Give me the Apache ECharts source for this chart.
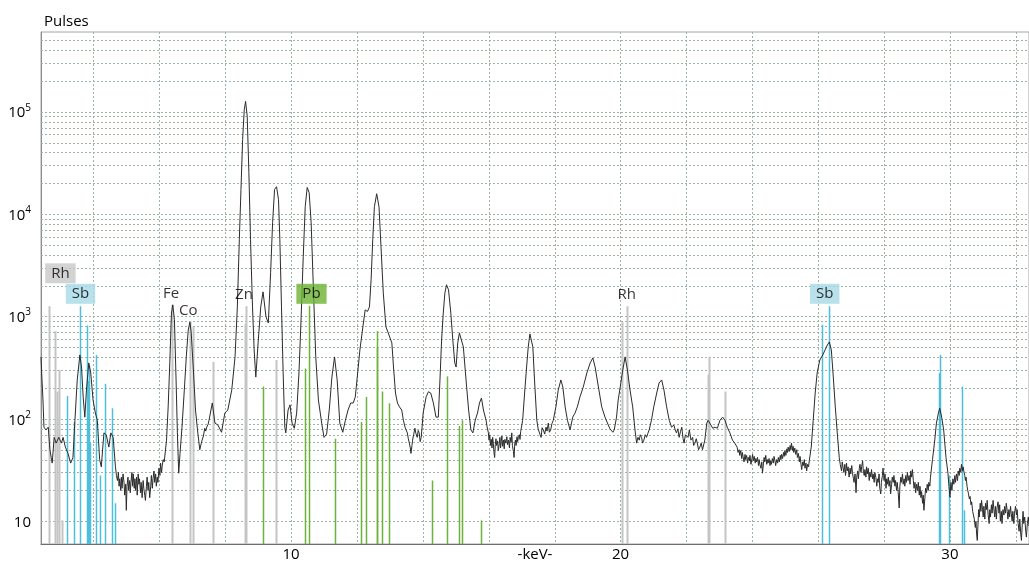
<!DOCTYPE html>
<html>
<head>
<meta charset="utf-8">
<script src="https://cdn.jsdelivr.net/npm/echarts@6/dist/echarts.min.js"></script>
<style>
html,body{margin:0;padding:0;background:#fff;}
#chart{width:1029px;height:565px;}
</style>
</head>
<body>
<div id="chart"></div>
<script>
// ---- spectrum: [energy keV, pulses] ----
const spectrumLow = [[2.41,403],[2.44,240],[2.47,153],[2.50,83],[2.56,78],[2.63,83],[2.68,50],[2.72,42],[2.75,37],[2.81,66],
[2.87,58],[2.95,66],[3.03,58],[3.08,66],[3.15,53],[3.23,46],[3.31,37],[3.38,42],[3.44,97],[3.51,240],
[3.59,421],[3.64,321],[3.69,164],[3.74,104],[3.79,191],[3.86,352],[3.92,281],[3.99,153],[4.06,114],[4.12,97],
[4.19,40],[4.24,34],[4.32,73],[4.39,70],[4.47,53],[4.53,73],[4.60,66],
[4.67,34],[4.70,28],[4.73,25],[4.76,30],[4.78,22],[4.80,26],[4.83,20],[4.85,27],[4.87,21],[4.90,29],
[4.93,24],[4.95,18],[4.98,23],[5.00,12.8],[5.02,22],[5.05,27],[5.07,20],[5.10,25],[5.12,19],[5.14,24],
[5.17,30],[5.19,22],[5.21,29],[5.24,21],[5.26,26],[5.28,20],[5.31,27],[5.33,18],[5.36,29],[5.38,23],
[5.40,26],[5.43,19],[5.45,24],[5.48,17],[5.51,25],[5.53,21],[5.56,18],[5.58,16],[5.61,22],[5.63,27],
[5.66,20],[5.68,24],[5.71,17],[5.74,22],[5.76,28],[5.79,21],[5.81,26],[5.84,31],[5.86,24],[5.89,29],
[5.91,22],[5.94,27],[5.96,24],[5.99,33],[6.02,28],[6.04,37],[6.07,30],[6.09,35],[6.12,40],[6.15,38]];

const spectrumMid = [[6.22,62],[6.27,131],[6.32,352],[6.37,1080],[6.41,1300],[6.46,930],[6.51,240],[6.55,73],[6.59,29.5],[6.63,46],
[6.69,83],[6.76,191],[6.82,403],[6.88,739],[6.93,880],[6.97,691],[7.04,281],[7.10,122],[7.16,78],[7.23,50],
[7.27,57],[7.30,62],[7.34,68],[7.38,81],[7.41,76],[7.44,83],[7.48,88],[7.51,97],[7.61,143],[7.69,91],
[7.78,87],[7.89,74],[7.99,114],[8.08,122],[8.20,191],[8.30,403],[8.37,1240],[8.43,5620],[8.48,17400],[8.53,53500],
[8.58,105000],[8.62,126000],[8.67,89800],[8.72,25400],[8.77,5620],[8.83,1240],[8.88,471],[8.93,256],[9.00,552],[9.08,1240],
[9.15,1740],[9.24,991],[9.31,865],[9.38,2670],[9.44,8240],[9.50,17400],[9.56,18500],[9.62,13800],[9.66,5620],[9.71,1240],
[9.76,281],[9.81,83],[9.84,73],[9.91,122],[9.97,137],[10.03,91],[10.10,81],[10.17,114],[10.24,281],[10.30,865],
[10.37,3830],[10.43,11800],[10.49,18200],[10.55,16200],[10.61,8240],[10.68,1820],[10.75,403],[10.83,153],[10.93,91],[11.00,66],
[11.08,71],[11.16,122],[11.24,256],[11.32,403],[11.40,240],[11.48,91],[11.57,74],[11.65,97],[11.73,122],[11.81,143],
[11.89,143],[11.95,164],[12.01,256],[12.09,471],[12.18,791],[12.25,1160],[12.32,1120],[12.38,1240],[12.43,2280],[12.48,5620],
[12.53,11800],[12.60,15800],[12.67,11800],[12.73,4800],[12.80,1700],[12.88,791],[12.95,691],[13.06,552],[13.11,321],[13.17,179],
[13.23,143],[13.29,131],[13.36,122],[13.41,97],[13.46,83],[13.53,73],[13.56,64],[13.59,58],[13.62,52],[13.64,46],
[13.67,55],[13.69,62],[13.72,70],[13.76,81],[13.79,72],[13.83,66],[13.86,77],[13.89,73],[13.92,60],[13.95,66],
[13.98,85],[14.01,114],[14.10,164],[14.17,184],[14.24,179],[14.32,143],[14.40,104],[14.47,104],[14.52,240],[14.57,590],
[14.62,1080],[14.67,1700],[14.72,2040],[14.78,1820],[14.85,1080],[14.91,590],[14.97,352],[15.01,321],[15.06,552],[15.11,691],
[15.17,707],[15.23,504],[15.28,321],[15.33,205],[15.39,122],[15.46,78],[15.52,73],[15.59,97],[15.66,114],[15.72,143],
[15.78,160],[15.84,122],[15.92,97],[15.95,84],[15.99,73],[16.01,62],[16.03,70],[16.06,55],[16.08,63],[16.10,52],
[16.12,66],[16.14,58],[16.16,47],[16.18,42],[16.20,56],[16.22,64],[16.24,55],[16.27,61],[16.29,49],[16.32,57],
[16.34,66],[16.36,52],[16.38,60],[16.40,68],[16.42,54],[16.45,62],[16.47,51],[16.49,63],[16.52,58],[16.55,67],
[16.57,56],[16.60,62],[16.63,52],[16.65,66],[16.68,59],[16.70,73],[16.72,55],[16.75,48],[16.77,42],[16.79,57],
[16.81,62],[16.83,55],[16.86,67],[16.88,60],[16.90,66],[16.93,70],[16.95,63],[16.97,75]];

const spectrumHigh = [[17.03,97],[17.09,179],[17.15,321],[17.20,504],[17.25,676],[17.34,504],[17.39,240],[17.46,97],[17.50,80],[17.53,83],
[17.56,70],[17.59,66],[17.62,82],[17.66,78],[17.70,71],[17.74,83],[17.77,76],[17.81,91],[17.84,74],[17.88,78],
[17.92,90],[17.96,97],[18.04,131],[18.11,191],[18.19,240],[18.25,205],[18.32,131],[18.39,97],[18.47,78],[18.55,104],
[18.62,114],[18.69,131],[18.77,164],[18.87,205],[18.98,281],[19.08,352],[19.16,394],[19.23,321],[19.33,205],[19.43,131],
[19.53,104],[19.63,87],[19.68,80],[19.73,83],[19.77,74],[19.81,78],[19.88,104],[19.93,153],[20.01,224],[20.07,300],
[20.14,403],[20.21,300],[20.29,191],[20.37,131],[20.44,78],[20.49,58],[20.53,66],[20.57,62],[20.60,70],[20.64,66],
[20.67,58],[20.71,62],[20.75,70],[20.79,66],[20.83,72],[20.87,78],[20.94,97],[21.01,131],[21.10,179],[21.17,224],
[21.25,240],[21.32,191],[21.40,131],[21.48,97],[21.55,83],[21.62,87],[21.66,78],[21.70,73],[21.74,80],[21.78,66],
[21.82,75],[21.86,83],[21.90,64],[21.93,58],[21.97,70],[22.01,73],[22.05,66],[22.09,78],[22.14,62],[22.19,66],
[22.22,55],[22.26,58],[22.30,64],[22.33,58],[22.37,50],[22.41,53],[22.45,58],[22.49,50],[22.56,62],[22.62,91],
[22.66,97],[22.72,94],[22.80,81],[22.87,83],[22.94,81],[23.02,97],[23.10,104],[23.17,97],[23.24,83],[23.32,73],
[23.40,62],[23.47,58],[23.54,53],[23.57,47],[23.60,50],[23.62,44],[23.65,49],[23.68,41],[23.70,47],[23.72,43],
[23.75,38],[23.78,45],[23.80,40],[23.83,44],[23.86,37],[23.88,42],[23.91,39],[23.93,44],[23.96,36],[23.99,41],
[24.01,45],[24.03,39],[24.06,43],[24.09,37],[24.11,41],[24.13,38],[24.16,42],[24.19,35],[24.21,40],[24.23,36],
[24.26,33],[24.29,38],[24.31,29.5],[24.34,37],[24.36,42],[24.38,38],[24.41,44],[24.44,36],[24.46,40],[24.48,37],
[24.51,41],[24.54,35],[24.56,39],[24.58,36],[24.61,41],[24.64,37],[24.66,43],[24.69,39],[24.71,35],[24.74,40],
[24.77,37],[24.79,42],[24.82,38],[24.85,44],[24.87,40],[24.89,45],[24.92,41],[24.95,47],[24.97,43],[24.99,49],
[25.02,44],[25.05,51],[25.07,47],[25.09,53],[25.12,48],[25.15,55],[25.17,50],[25.19,58],[25.22,49],[25.24,54],
[25.26,47],[25.29,52],[25.32,45],[25.35,50],[25.37,42],[25.40,46],[25.43,38],[25.45,43],[25.48,36],[25.50,32],
[25.53,38],[25.55,35],[25.58,40],[25.60,33],[25.63,37],[25.65,31],[25.68,36],[25.71,34],[25.73,39],[25.79,53],
[25.85,97],[25.91,179],[25.97,281],[26.05,376],[26.14,421],[26.21,471],[26.28,527],[26.34,564],[26.40,471],[26.46,256],
[26.52,131],[26.58,73],[26.64,42],[26.67,36],[26.71,31],[26.73,38],[26.76,33],[26.78,30],[26.81,36],[26.83,28],
[26.86,37],[26.88,31],[26.91,34],[26.94,27],[26.97,33],[26.99,29],[27.02,35],[27.04,30],[27.07,26],[27.09,24],
[27.12,29],[27.15,19],[27.17,27],[27.20,31],[27.22,26],[27.25,33],[27.27,36],[27.30,30],[27.32,34],[27.35,39],
[27.37,31],[27.40,28],[27.42,32],[27.45,27],[27.47,34],[27.49,29],[27.52,33],[27.55,25],[27.57,30],[27.60,27],
[27.62,32],[27.65,26],[27.67,29],[27.70,24],[27.72,30],[27.75,27],[27.78,22],[27.80,26],[27.82,24],[27.85,29],
[27.87,21],[27.90,18.5],[27.92,24],[27.95,28],[27.97,33],[28.00,25],[28.03,29],[28.06,21],[28.08,26],[28.10,23],
[28.13,27],[28.15,22],[28.18,25],[28.20,18.5],[28.23,23],[28.25,27],[28.28,24],[28.30,28],[28.33,22],[28.35,25],
[28.38,20],[28.40,24],[28.43,19],[28.46,13.5],[28.48,22],[28.51,27],[28.53,24],[28.56,29],[28.58,23],[28.61,26],
[28.63,22],[28.66,28],[28.68,24],[28.71,30],[28.73,25],[28.76,28],[28.79,23],[28.81,31],[28.84,27],[28.86,32],
[28.89,25],[28.91,21],[28.94,24],[28.96,19],[28.99,23],[29.02,20],[29.04,24],[29.07,18],[29.09,22],[29.12,17],
[29.14,19.5],[29.17,15],[29.19,18],[29.21,12.8],[29.24,17],[29.26,21],[29.29,19],[29.31,23],[29.34,20],[29.36,24],
[29.39,22],[29.41,27],[29.47,40],[29.53,58],[29.59,91],[29.65,114],[29.69,127],[29.75,104],[29.81,78],[29.88,42],
[29.94,29.5],[29.97,22],[30.00,17.2],[30.03,24],[30.06,20],[30.09,26],[30.12,23],[30.15,28],[30.17,24],[30.20,29],
[30.23,25],[30.25,31],[30.28,28],[30.30,33],[30.33,30],[30.35,36],[30.38,31],[30.40,34],[30.42,31],[30.45,28],
[30.47,25],[30.49,27],[30.52,22],[30.54,20],[30.56,18.8],[30.59,16.5],[30.61,17.5],[30.64,14.5],[30.66,15.5],[30.69,12.5],
[30.71,13],[30.74,10.5],[30.77,8.7],[30.79,10],[30.81,7.5],[30.83,6.5],[30.85,9],[30.87,13],[30.89,11],[30.92,15],
[30.94,12.5],[30.96,16],[30.99,13],[31.01,11],[31.03,14],[31.06,10.5],[31.08,15],[31.11,13],[31.13,16],[31.16,11.5],
[31.19,9.5],[31.21,13],[31.23,11],[31.26,14.5],[31.28,12],[31.31,16],[31.33,13.5],[31.36,11],[31.38,14],[31.41,10.5],
[31.43,13.5],[31.46,15.5],[31.49,12],[31.51,14.5],[31.53,10],[31.56,12.5],[31.58,9.5],[31.61,13],[31.64,11.5],[31.66,14],
[31.69,12],[31.71,15],[31.74,12.5],[31.76,10.5],[31.79,13],[31.81,11],[31.84,14],[31.86,12],[31.89,10],[31.91,12.5],
[31.94,9.5],[31.96,12],[31.99,14],[32.02,11.5],[32.04,13],[32.07,9.5],[32.10,8],[32.12,10.5],[32.15,7.5],[32.17,6.5],
[32.20,10],[32.22,12.5],[32.24,9.5],[32.27,11],[32.30,8],[32.32,7],[32.35,9.5],[32.38,11],[32.40,9]];

// ---- element emission lines (energy keV, relative height in pulses) ----
const rhLineEnergy = [2.66,2.82,2.89,2.97,3.04,20.06,20.21,22.67,22.69,23.17];
const rhLineHeight = [1260,720,185,300,10.2,880,1260,270,405,185];
const feCoZnLineEnergy = [6.40,6.93,7.03,7.64,8.60,8.625,9.545];
const feCoZnLineHeight = [1300,900,790,360,850,1260,376];
const pbLineEnergy = [9.16,10.43,10.55,11.345,12.13,12.29,12.60,12.62,12.77,12.98,14.29,14.74,15.11,15.19,15.78];
const pbLineHeight = [207,310,1270,64,93,164,720,500,185,142,25,260,85,97,10.2];
const sbLineEnergy = [3.19,3.41,3.58,3.82,3.84,3.87,3.90,4.07,4.21,4.35,4.58,4.67,26.11,26.34,29.68,29.71,29.96,30.37,30.44];
const sbLineHeight = [167,93,1260,815,235,330,58,421,28,220,127,15,830,1260,280,421,28,207,12.8];

// ---- element labels ----
const labelText   = ['Rh','Sb','Fe','Co','Zn','Pb','Rh','Sb'];
const labelEnergy = [3.00,3.61,6.36,6.88,8.57,10.62,20.19,26.20];
const labelPulses = [2640,1665,1650,1135,1630,1665,1630,1665];
const labelBoxed  = ['rh','sb','','','','pb','','sb'];

// ---- axes ----
const xTickLabels = [10,20,30];
const xGridValues = [4,6,8,10,12,14,16,18,20,22,24,26,28,30,32];
const yTickLabels = [10,100,1000,10000,100000];
const yGridValues = [10,20,30,40,50,60,70,80,90,100,200,300,400,500,600,700,800,900,
  1000,2000,3000,4000,5000,6000,7000,8000,9000,10000,20000,30000,40000,50000,60000,70000,80000,90000,
  100000,200000,300000,400000,500000];
const X_MIN = 2.41, X_MAX = 32.4, Y_MIN = 6, Y_MAX = 600000;

const FONT = '"Open Sans", "Noto Sans", sans-serif';
const GRID_COLOR = '#9db3a4';
const TEXT = '#000';

const chart = echarts.init(document.getElementById('chart'), null, {renderer: 'canvas'});

function lineSeries(es, hs, color, width) {
  const n = Math.min(es.length, hs.length);
  const data = [];
  for (let i = 0; i < n; i++) data.push([es[i], hs[i]]);
  return {
    type: 'custom', silent: true, z: 3, animation: false,
    data: data,
    renderItem: function (params, api) {
      const p0 = api.coord([api.value(0), Y_MIN]);
      const p1 = api.coord([api.value(0), api.value(1)]);
      const x = Math.round(p0[0]) + 0.5;
      return {type: 'line', shape: {x1: x, y1: p0[1], x2: x, y2: p1[1]},
        style: {stroke: color, lineWidth: width}};
    }
  };
}

const spec = spectrumLow.concat(spectrumMid, spectrumHigh);

const boxColors = {rh: '#c8c8c8', sb: '#a8dae6', pb: '#6bb332', '': 'transparent'};
const labelData = labelText.map((t, i) => ({
  value: [labelEnergy[i], labelPulses[i]],
  name: t,
  label: {backgroundColor: boxColors[labelBoxed[i]], padding: labelBoxed[i] ? [2, 6, 1, 6] : 0}
}));

const option = {
  animation: false,
  backgroundColor: '#fff',
  title: {text: 'Pulses', left: 39, top: 9,
    textStyle: {fontFamily: FONT, fontSize: 15, fontWeight: 'normal', color: TEXT}},
  grid: {left: 41, right: 0, top: 32, bottom: 21, show: true, borderColor: '#a6a6a6', borderWidth: 1,
    containLabel: false, outerBoundsMode: 'none'},
  xAxis: {
    type: 'value', min: X_MIN, max: X_MAX,
    axisLine: {show: true, lineStyle: {color: '#6e6e6e', width: 1}},
    axisTick: {show: false},
    splitLine: {show: false},
    axisLabel: {customValues: xTickLabels, fontFamily: FONT, fontSize: 15, color: TEXT, margin: 3},
    name: '-keV-', nameLocation: 'middle', nameGap: 3, nameMoveOverlap: false,
    nameTextStyle: {fontFamily: FONT, fontSize: 15, color: TEXT, verticalAlign: 'top'}
  },
  yAxis: {
    type: 'log', logBase: 10, min: Y_MIN, max: Y_MAX,
    axisLine: {show: true, lineStyle: {color: '#8c8c8c', width: 1}},
    axisTick: {show: false},
    splitLine: {show: false},
    axisLabel: {
      customValues: yTickLabels, margin: 10, color: TEXT,
      formatter: function (v) {
        const e = Math.round(Math.log10(v));
        return e === 1 ? '{b|10}' : '{b|10}{s|' + e + '}';
      },
      rich: {
        b: {fontFamily: FONT, fontSize: 15, color: TEXT, lineHeight: 18, verticalAlign: 'bottom'},
        s: {fontFamily: FONT, fontSize: 10, color: TEXT, lineHeight: 18, verticalAlign: 'top', padding: [0, 0, 6, 0]}
      }
    }
  },
  series: [
    {
      type: 'custom', silent: true, z: 1, animation: false,
      data: yGridValues.map(v => [X_MIN, v]),
      renderItem: function (params, api) {
        const cs = params.coordSys;
        const y = Math.round(api.coord([X_MIN, api.value(1)])[1]) + 0.5;
        return {type: 'line', shape: {x1: cs.x, y1: y, x2: cs.x + cs.width, y2: y},
          style: {stroke: GRID_COLOR, lineWidth: 1, lineDash: [2, 2]}};
      }
    },
    {
      type: 'custom', silent: true, z: 1, animation: false,
      data: xGridValues.map(v => [v, Y_MIN]),
      renderItem: function (params, api) {
        const cs = params.coordSys;
        const x = Math.round(api.coord([api.value(0), Y_MIN])[0]) + 0.5;
        return {type: 'line', shape: {x1: x, y1: cs.y, x2: x, y2: cs.y + cs.height},
          style: {stroke: GRID_COLOR, lineWidth: 1, lineDash: [2, 2]}};
      }
    },
    lineSeries(rhLineEnergy, rhLineHeight, '#c4c4c4', 2),
    lineSeries(feCoZnLineEnergy, feCoZnLineHeight, '#c4c4c4', 2),
    lineSeries(pbLineEnergy, pbLineHeight, '#6cb33a', 1.5),
    lineSeries(sbLineEnergy, sbLineHeight, '#4dbfdc', 1.5),
    {
      type: 'line', z: 5, data: spec, showSymbol: false, symbol: 'none',
      lineStyle: {color: '#2b2b2b', width: 1}, silent: true, animation: false
    },
    {
      type: 'scatter', z: 6, symbolSize: 0, silent: true, data: labelData,
      label: {show: true, position: 'inside', formatter: '{b}',
        fontFamily: FONT, fontSize: 15, color: TEXT, lineHeight: 17}
    }
  ]
};
chart.setOption(option);
</script>
</body>
</html>
